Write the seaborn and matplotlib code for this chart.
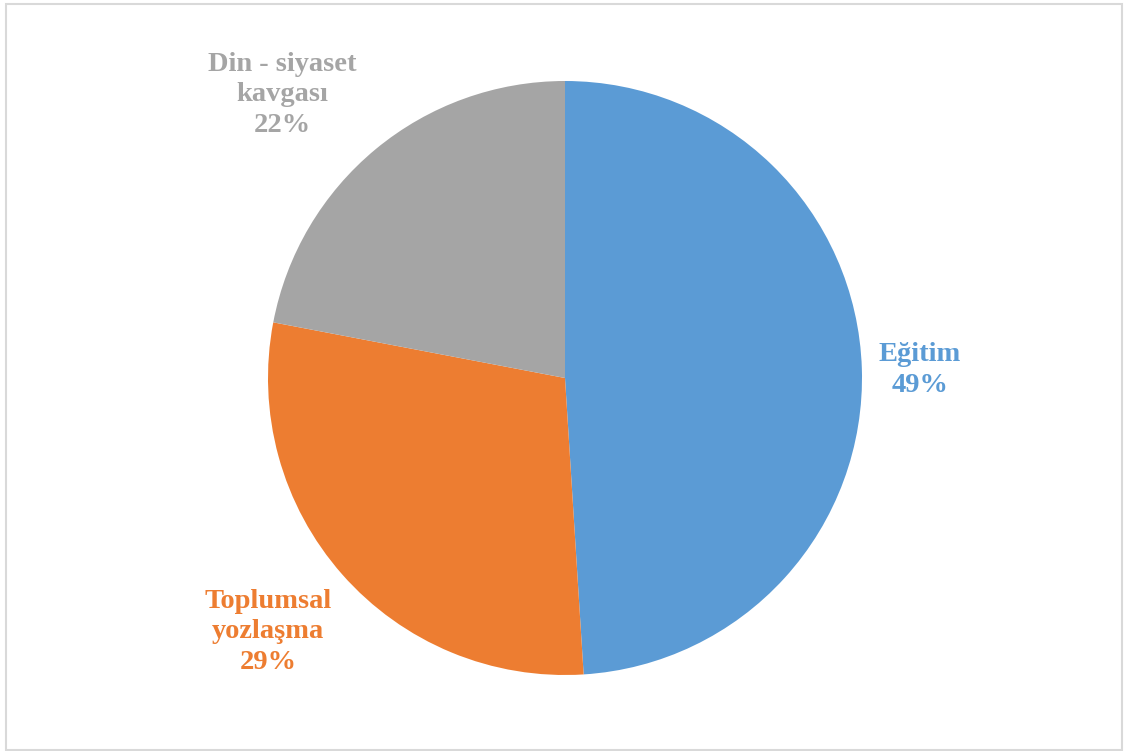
import numpy as np
import matplotlib
matplotlib.use("Agg")
import matplotlib.pyplot as plt
import seaborn as sns
from matplotlib.patches import Rectangle

sns.set_theme(style="white")
plt.rcParams["font.family"] = ["Liberation Serif", "DejaVu Serif"]

categories = ["Eğitim", "Toplumsal\nyozlaşma", "Din - siyaset\nkavgası"]
shares = [49, 29, 22]
colors = ["#5B9BD5", "#ED7D31", "#A5A5A5"]
# label anchors (pie radius units, relative to pie centre)
label_xy = [(1.195, 0.027), (-1.0, -0.855), (-0.953, 0.953)]

W, H = 1125, 751
fig = plt.figure(figsize=(W / 100, H / 100), dpi=100)
ax = fig.add_axes([0, 0, 1, 1])

R = 297.0
cx, cy = 565.0, H - 378.0

wedges, _ = ax.pie(shares, colors=colors, startangle=90, counterclock=False,
                   radius=1.0, wedgeprops=dict(linewidth=0))

ax.set_xlim(-cx / R, (W - cx) / R)
ax.set_ylim(-cy / R, (H - cy) / R)
ax.set_aspect("auto")
ax.axis("off")

total = sum(shares)
for cat, val, col, (lx, ly) in zip(categories, shares, colors, label_xy):
    ax.text(lx, ly, f"{cat}\n{round(100 * val / total)}%",
            ha="center", va="center", color=col, fontsize=20.5,
            fontweight="bold", linespacing=1.27)

fig.patches.append(Rectangle((6 / W, 1 / H), 1116 / W, 746 / H,
                             transform=fig.transFigure, fill=False,
                             edgecolor="#D9D9D9", linewidth=1.5))

fig.savefig("out.png", dpi=100, facecolor="white")
